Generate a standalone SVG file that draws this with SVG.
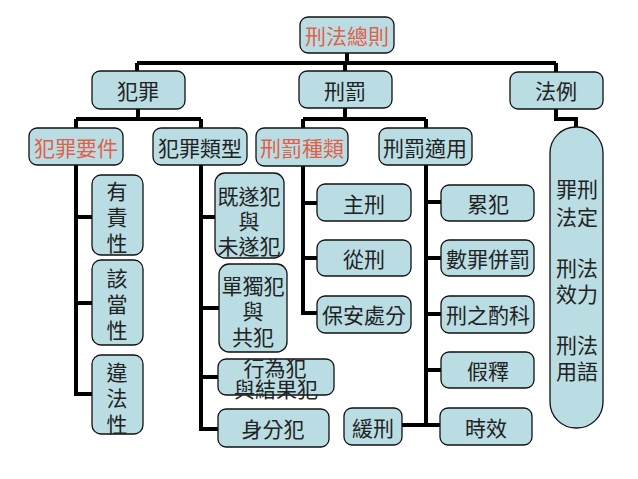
<svg xmlns="http://www.w3.org/2000/svg" width="638" height="479" viewBox="0 0 638 479">
<style>
.b{fill:#b9dde2;stroke:#111;stroke-width:1.3}
.t{font-family:"Noto Sans CJK TC","Noto Sans CJK SC",sans-serif;font-size:21px;fill:#222;text-anchor:middle;dominant-baseline:central}
.r{fill:#e0604a}
.c{fill:none;stroke:#000;stroke-width:4}
</style>
<rect width="638" height="479" fill="#fff"/>
<g id="connectors" class="c">
<path d="M347 53V63M137 63H556M137 63V71M345 63V71M556 63V72"/>
<path d="M138 109V119M76 119H201M76 119V128M201 119V128"/>
<path d="M345 108V119M303 119H426M303 119V128M426 119V128"/>
<path d="M556 109V119H576V128"/>
<path d="M76 165V394H92M76 217H92M76 303H92"/>
<path d="M201 165V429H218M201 217H215M201 308H219M201 377H218"/>
<path d="M303 166V313H317M303 203H317M303 258H317"/>
<path d="M426 165V425H440M426 202H441M426 258H441M426 314H441M426 370H441M402 425H426"/>
</g>
<g id="n-root"><rect class="b" x="300" y="17" width="94" height="36" rx="8"/><text class="t r" x="347" y="35">刑法總則</text></g>
<g id="n-crime"><rect class="b" x="92" y="71" width="93" height="38" rx="8"/><text class="t" x="138" y="90">犯罪</text></g>
<g id="n-penalty"><rect class="b" x="299" y="71" width="93" height="37" rx="8"/><text class="t" x="345" y="90">刑罰</text></g>
<g id="n-law"><rect class="b" x="510" y="72" width="93" height="37" rx="8"/><text class="t" x="556" y="90">法例</text></g>
<g id="n-elements"><rect class="b" x="29" y="128" width="94" height="37" rx="8"/><text class="t r" x="76" y="147">犯罪要件</text></g>
<g id="n-types"><rect class="b" x="153" y="128" width="94" height="37" rx="8"/><text class="t" x="200" y="147">犯罪類型</text></g>
<g id="n-kinds"><rect class="b" x="256" y="128" width="92" height="38" rx="8"/><text class="t r" x="302" y="147">刑罰種類</text></g>
<g id="n-apply"><rect class="b" x="379" y="128" width="93" height="37" rx="8"/><text class="t" x="425" y="147">刑罰適用</text></g>
<g id="n-pill"><rect class="b" x="550" y="127" width="53" height="301" rx="26"/>
<text class="t" x="577" y="188"><tspan x="577">罪刑</tspan><tspan x="577" dy="28">法定</tspan><tspan x="577" dy="51">刑法</tspan><tspan x="577" dy="26">效力</tspan><tspan x="577" dy="51">刑法</tspan><tspan x="577" dy="26">用語</tspan></text></g>
<g id="n-youze"><rect class="b" x="92" y="175" width="51" height="80" rx="9"/><text class="t" x="117" y="190"><tspan x="117">有</tspan><tspan x="117" dy="26">責</tspan><tspan x="117" dy="26">性</tspan></text></g>
<g id="n-gaidang"><rect class="b" x="92" y="260" width="51" height="85" rx="9"/><text class="t" x="117" y="277"><tspan x="117">該</tspan><tspan x="117" dy="26">當</tspan><tspan x="117" dy="26">性</tspan></text></g>
<g id="n-weifa"><rect class="b" x="92" y="355" width="51" height="79" rx="9"/><text class="t" x="117" y="371"><tspan x="117">違</tspan><tspan x="117" dy="26">法</tspan><tspan x="117" dy="26">性</tspan></text></g>
<g id="n-jisui"><rect class="b" x="215" y="173" width="69" height="85" rx="10"/><text class="t" x="249" y="195"><tspan x="249">既遂犯</tspan><tspan x="249" dy="25">與</tspan><tspan x="249" dy="25">未遂犯</tspan></text></g>
<g id="n-dandu"><rect class="b" x="219" y="264" width="68" height="88" rx="10"/><text class="t" x="253" y="285"><tspan x="253">單獨犯</tspan><tspan x="253" dy="25">與</tspan><tspan x="253" dy="26">共犯</tspan></text></g>
<g id="n-xingwei"><rect class="b" x="218" y="359" width="116" height="36" rx="8"/><text class="t" x="275" y="367"><tspan x="275">行為犯</tspan><tspan x="276" dy="21">與結果犯</tspan></text></g>
<g id="n-shenfen"><rect class="b" x="218" y="409" width="111" height="38" rx="8"/><text class="t" x="273" y="428">身分犯</text></g>
<g id="n-zhu"><rect class="b" x="317" y="184" width="94" height="37" rx="8"/><text class="t" x="364" y="203">主刑</text></g>
<g id="n-cong"><rect class="b" x="317" y="240" width="94" height="36" rx="8"/><text class="t" x="364" y="258">從刑</text></g>
<g id="n-baoan"><rect class="b" x="317" y="296" width="94" height="37" rx="8"/><text class="t" x="364" y="314">保安處分</text></g>
<g id="n-leifan"><rect class="b" x="441" y="185" width="93" height="36" rx="8"/><text class="t" x="488" y="203">累犯</text></g>
<g id="n-shuzui"><rect class="b" x="441" y="240" width="93" height="36" rx="8"/><text class="t" x="488" y="258">數罪併罰</text></g>
<g id="n-zhuoke"><rect class="b" x="441" y="296" width="93" height="37" rx="8"/><text class="t" x="488" y="314">刑之酌科</text></g>
<g id="n-jiashi"><rect class="b" x="441" y="352" width="93" height="36" rx="8"/><text class="t" x="488" y="370">假釋</text></g>
<g id="n-shixiao"><rect class="b" x="440" y="408" width="92" height="37" rx="8"/><text class="t" x="486" y="427">時效</text></g>
<g id="n-huanxing"><rect class="b" x="344" y="408" width="58" height="37" rx="8"/><text class="t" x="373" y="427">緩刑</text></g>
</svg>
